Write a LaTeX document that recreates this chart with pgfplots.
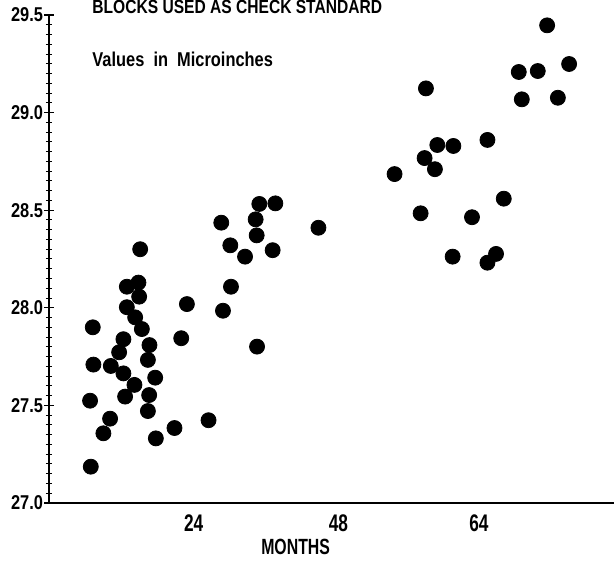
\documentclass[border=0pt]{standalone}
\usepackage{fontspec}
\setmainfont{Liberation Sans}[FakeStretch=0.82]
\newfontfamily\narrowfont{Liberation Sans}[FakeStretch=0.72]
\usepackage{pgfplots}
\pgfplotsset{compat=1.18}

\begin{document}
\begin{tikzpicture}
\begin{axis}[
    name=ax,
    scale only axis,
    width=282.5pt, height=244pt,
    xmin=0, xmax=93.7,
    ymin=27, ymax=29.5,
    axis lines=left,
    axis line style={-, line width=0.9pt},
    xtick={24,48,71.3},
    xticklabels={24,48,64},
    major x tick style={draw=none},
    xticklabel style={font=\narrowfont\fontsize{12}{14}\bfseries, yshift=0pt},
    ytick={27,27.5,28,28.5,29,29.5},
    minor y tick num=9,
    tick align=center,
    major tick length=5pt,
    minor tick length=3pt,
    major y tick style={line width=0.6pt, black},
    minor y tick style={line width=0.5pt, black},
    yticklabel style={font=\fontsize{10}{12}\bfseries, xshift=3pt},
    /pgf/number format/.cd, fixed, fixed zerofill, precision=1, assume math mode=true,
    /pgfplots/.cd,
    xlabel={MONTHS},
    xlabel style={font=\narrowfont\fontsize{11}{13}\bfseries,
        at={(axis description cs:0.4365,0)}, anchor=center, yshift=-22pt},
    clip=false,
]
\addplot[only marks, mark=*, mark size=3.75pt, black] coordinates {
    (15.12,28.300) (12.91,28.108) (14.83,28.129) (14.95,28.057)
    (12.91,28.003) (14.29,27.951) (15.40,27.891) (7.26,27.900)
    (12.34,27.839) (11.63,27.772) (16.66,27.809) (16.40,27.733)
    (7.36,27.709) (10.25,27.702) (12.34,27.664) (17.61,27.642)
    (14.17,27.605) (16.61,27.553) (12.62,27.545) (6.81,27.524)
    (16.40,27.471) (10.13,27.432) (9.02,27.357) (17.72,27.331)
    (20.81,27.384) (26.46,27.424) (6.93,27.186) (22.87,28.019)
    (21.93,27.844) (34.88,28.532) (37.54,28.535) (28.57,28.436)
    (34.27,28.453) (34.44,28.371) (44.68,28.410) (30.07,28.320)
    (32.51,28.262) (37.09,28.295) (30.18,28.108) (28.85,27.985)
    (34.50,27.801)
    (77.91,29.208) (81.06,29.213) (86.26,29.249) (82.61,29.447)
    (62.51,29.124) (78.41,29.068) (84.39,29.076) (64.40,28.834)
    (67.06,28.829) (72.71,28.860) (62.29,28.767) (64.00,28.710)
    (57.31,28.685) (75.42,28.559) (61.63,28.484) (70.15,28.464)
    (66.94,28.262) (74.14,28.276) (72.71,28.231)
};
\node[anchor=base west, font=\fontsize{9.5}{11}\bfseries, inner sep=0pt]
    at (axis cs:7.14,29.508) {BLOCKS USED AS CHECK STANDARD};
\node[anchor=base west, font=\fontsize{10}{12}\bfseries, inner sep=0pt]
    at (axis cs:7.14,29.234) {Values\ \ in\ \ Microinches};
\end{axis}
\pgfresetboundingbox
\path[use as bounding box] ([shift={(-24.5pt,-29.5pt)}]ax.south west)
    rectangle ([shift={(0pt,7.5pt)}]ax.north east);
\end{tikzpicture}
\end{document}
